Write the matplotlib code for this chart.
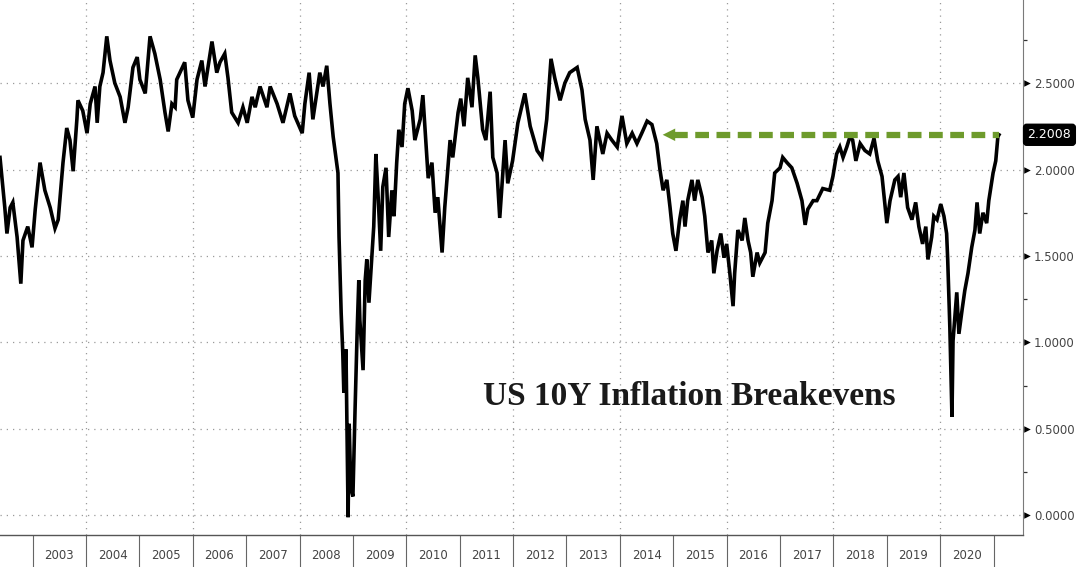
import matplotlib
matplotlib.use("Agg")
import matplotlib.pyplot as plt
from matplotlib.ticker import FixedLocator, FuncFormatter
from matplotlib.transforms import blended_transform_factory

# decimal year / breakeven (%)
dates = [
    2002.39, 2002.48, 2002.52, 2002.58, 2002.63, 2002.71, 2002.78, 2002.82, 2002.91, 2002.99,
    2003.05, 2003.14, 2003.23, 2003.33, 2003.42, 2003.48, 2003.57, 2003.64, 2003.70, 2003.76,
    2003.83, 2003.85, 2003.94, 2004.02, 2004.08, 2004.17, 2004.21, 2004.26, 2004.32, 2004.39,
    2004.45, 2004.54, 2004.64, 2004.73, 2004.79, 2004.88, 2004.96, 2005.01, 2005.11, 2005.20,
    2005.29, 2005.39, 2005.48, 2005.54, 2005.61, 2005.67, 2005.70, 2005.76, 2005.85, 2005.91,
    2006.00, 2006.08, 2006.17, 2006.23, 2006.36, 2006.45, 2006.51, 2006.60, 2006.66, 2006.73,
    2006.85, 2006.94, 2007.02, 2007.11, 2007.17, 2007.26, 2007.39, 2007.45, 2007.58, 2007.69,
    2007.82, 2007.91, 2008.05, 2008.10, 2008.18, 2008.25, 2008.38, 2008.44, 2008.51, 2008.57,
    2008.63, 2008.72, 2008.74, 2008.78, 2008.81, 2008.83, 2008.87, 2008.91, 2008.93, 2008.96,
    2009.00, 2009.04, 2009.08, 2009.11, 2009.13, 2009.19, 2009.23, 2009.26, 2009.30, 2009.36,
    2009.39, 2009.43, 2009.47, 2009.52, 2009.56, 2009.62, 2009.67, 2009.73, 2009.77, 2009.82,
    2009.86, 2009.92, 2009.97, 2010.03, 2010.11, 2010.16, 2010.26, 2010.31, 2010.41, 2010.48,
    2010.54, 2010.59, 2010.67, 2010.72, 2010.82, 2010.87, 2010.97, 2011.02, 2011.08, 2011.15,
    2011.23, 2011.29, 2011.34, 2011.43, 2011.49, 2011.57, 2011.62, 2011.70, 2011.75, 2011.85,
    2011.90, 2011.99, 2012.09, 2012.22, 2012.32, 2012.45, 2012.54, 2012.63, 2012.71, 2012.78,
    2012.88, 2012.97, 2013.06, 2013.20, 2013.29, 2013.35, 2013.44, 2013.50, 2013.57, 2013.68,
    2013.76, 2013.85, 2013.95, 2014.04, 2014.13, 2014.23, 2014.32, 2014.41, 2014.51, 2014.60,
    2014.69, 2014.75, 2014.81, 2014.88, 2014.94, 2014.99, 2015.05, 2015.12, 2015.18, 2015.22,
    2015.27, 2015.35, 2015.40, 2015.46, 2015.54, 2015.59, 2015.65, 2015.72, 2015.76, 2015.82,
    2015.89, 2015.95, 2016.00, 2016.06, 2016.12, 2016.15, 2016.21, 2016.29, 2016.34, 2016.40,
    2016.45, 2016.49, 2016.57, 2016.62, 2016.72, 2016.77, 2016.85, 2016.90, 2017.00, 2017.05,
    2017.13, 2017.22, 2017.32, 2017.41, 2017.47, 2017.52, 2017.62, 2017.69, 2017.80, 2017.93,
    2017.99, 2018.06, 2018.12, 2018.18, 2018.25, 2018.31, 2018.36, 2018.42, 2018.50, 2018.59,
    2018.68, 2018.76, 2018.83, 2018.91, 2018.96, 2019.00, 2019.06, 2019.15, 2019.21, 2019.26,
    2019.32, 2019.39, 2019.47, 2019.54, 2019.60, 2019.67, 2019.73, 2019.77, 2019.84, 2019.88,
    2019.94, 2020.01, 2020.07, 2020.12, 2020.14, 2020.18, 2020.22, 2020.24, 2020.27, 2020.31,
    2020.35, 2020.41, 2020.46, 2020.52, 2020.59, 2020.65, 2020.69, 2020.74, 2020.80, 2020.87,
    2020.91, 2020.99, 2021.04, 2021.08, 2021.10,
]
breakevens = [
    2.07, 1.78, 1.63, 1.78, 1.81, 1.61, 1.34, 1.59, 1.67, 1.55,
    1.77, 2.04, 1.88, 1.78, 1.66, 1.71, 2.04, 2.24, 2.17, 1.99,
    2.29, 2.40, 2.34, 2.21, 2.38, 2.48, 2.27, 2.48, 2.56, 2.77,
    2.63, 2.50, 2.42, 2.27, 2.36, 2.59, 2.65, 2.52, 2.44, 2.77,
    2.67, 2.52, 2.33, 2.22, 2.38, 2.36, 2.52, 2.56, 2.62, 2.40,
    2.30, 2.52, 2.63, 2.48, 2.74, 2.56, 2.62, 2.67, 2.53, 2.33,
    2.27, 2.36, 2.27, 2.42, 2.36, 2.48, 2.36, 2.48, 2.38, 2.27,
    2.44, 2.31, 2.21, 2.38, 2.56, 2.29, 2.56, 2.48, 2.60, 2.38,
    2.19, 1.98, 1.61, 1.17, 0.94, 0.71, 0.96, -0.01, 0.53, 0.16,
    0.11, 0.61, 1.07, 1.36, 1.13, 0.84, 1.36, 1.48, 1.23, 1.53,
    1.67, 2.09, 1.86, 1.53, 1.90, 2.01, 1.61, 1.88, 1.73, 2.04,
    2.23, 2.13, 2.38, 2.47, 2.34, 2.17, 2.29, 2.43, 1.95, 2.04,
    1.75, 1.84, 1.52, 1.78, 2.17, 2.07, 2.33, 2.41, 2.25, 2.53,
    2.36, 2.66, 2.53, 2.23, 2.17, 2.45, 2.07, 1.98, 1.72, 2.17,
    1.92, 2.05, 2.27, 2.44, 2.25, 2.11, 2.07, 2.29, 2.64, 2.53,
    2.40, 2.50, 2.56, 2.59, 2.46, 2.29, 2.17, 1.94, 2.25, 2.09,
    2.21, 2.17, 2.13, 2.31, 2.15, 2.21, 2.15, 2.21, 2.28, 2.26,
    2.15, 2.00, 1.88, 1.94, 1.78, 1.63, 1.53, 1.71, 1.82, 1.67,
    1.82, 1.94, 1.82, 1.94, 1.84, 1.73, 1.52, 1.59, 1.40, 1.53,
    1.63, 1.49, 1.57, 1.40, 1.21, 1.40, 1.65, 1.59, 1.72, 1.59,
    1.52, 1.38, 1.52, 1.46, 1.52, 1.69, 1.82, 1.98, 2.01, 2.07,
    2.04, 2.01, 1.92, 1.82, 1.68, 1.77, 1.82, 1.82, 1.89, 1.88,
    1.96, 2.09, 2.13, 2.07, 2.13, 2.19, 2.17, 2.05, 2.15, 2.11,
    2.09, 2.18, 2.05, 1.96, 1.81, 1.69, 1.82, 1.94, 1.96, 1.84,
    1.98, 1.78, 1.71, 1.81, 1.67, 1.57, 1.67, 1.48, 1.61, 1.73,
    1.71, 1.80, 1.73, 1.63, 1.48, 1.09, 0.57, 1.01, 1.13, 1.29,
    1.05, 1.19, 1.30, 1.40, 1.55, 1.65, 1.81, 1.63, 1.75, 1.69,
    1.82, 1.98, 2.05, 2.19, 2.2008,
]
last_value = 2.2008
match_date = 2014.75  # previous time breakevens were this high
years = list(range(2003, 2021))
y_ticks = [0.0, 0.5, 1.0, 1.5, 2.0, 2.5]
y_minor = [0.25, 0.75, 1.25, 1.75, 2.25, 2.75]
title = "US 10Y Inflation Breakevens"

GREEN = "#6e9b2c"
GRID = "#9a9a9a"
AXIS = "#7a7a7a"
LABEL = "#444444"

fig = plt.figure(figsize=(10.8, 5.67), dpi=100)
ax = fig.add_axes([0.0, 0.0564, 0.9472, 0.9436])
ax.set_xlim(2002.39, 2021.55)
ax.set_ylim(-0.113, 2.98)

# dotted grid
for v in y_ticks:
    ax.axhline(v, color=GRID, lw=0.9, ls=(0, (1, 4)), zorder=1)
for yr in years:
    if yr % 2 == 0:
        ax.axvline(yr, color=GRID, lw=0.9, ls=(0, (1, 4)), zorder=1)

ax.plot(dates, breakevens, color="black", lw=2.6, solid_joinstyle="miter", zorder=3)

# green dashed arrow back to the 2014 level
ax.plot([match_date + 0.27, dates[-1]], [last_value, last_value], color=GREEN,
        lw=4.5, ls=(0, (2.2, 1.2)), solid_capstyle="butt", zorder=4)
ax.annotate("", xy=(match_date, last_value), xytext=(match_date + 0.3, last_value),
            arrowprops=dict(arrowstyle="-|>,head_length=0.9,head_width=0.45",
                            color=GREEN, lw=0), zorder=4)

# spines
for side in ["left", "top"]:
    ax.spines[side].set_visible(False)
ax.spines["right"].set_color(AXIS)
ax.spines["bottom"].set_color("#555555")
ax.spines["bottom"].set_linewidth(1.0)

# x axis: separators at year boundaries, labels in the middle of each year
ax.xaxis.set_major_locator(FixedLocator(years + [2021]))
ax.xaxis.set_minor_locator(FixedLocator([y + 0.5 for y in years]))
ax.xaxis.set_major_formatter(FuncFormatter(lambda v, p: ""))
ax.xaxis.set_minor_formatter(FuncFormatter(lambda v, p: str(int(v))))
ax.tick_params(axis="x", which="major", length=24, width=0.8, color="#666666", direction="out")
ax.tick_params(axis="x", which="minor", length=0, pad=10, labelsize=8.5, labelcolor=LABEL)

# y axis on the right
ax.yaxis.tick_right()
ax.yaxis.set_major_locator(FixedLocator(y_ticks))
ax.yaxis.set_minor_locator(FixedLocator(y_minor))
ax.yaxis.set_major_formatter(FuncFormatter(lambda v, p: "%.4f" % v))
ax.tick_params(axis="y", which="major", length=0, pad=8, labelsize=8.5, labelcolor=LABEL)
ax.tick_params(axis="y", which="minor", length=3, width=0.9, color="#333333", direction="out")

trans = blended_transform_factory(ax.transAxes, ax.transData)
ax.scatter([1.0035] * len(y_ticks), y_ticks, marker=">", s=22, color="black",
           transform=trans, clip_on=False, zorder=5, linewidths=0)

# last value tag
ax.text(1.0045, last_value, "%.4f" % last_value, transform=trans, va="center", ha="left",
        fontsize=9, color="white",
        bbox=dict(boxstyle="round,pad=0.32,rounding_size=0.25", fc="black", ec="black"),
        zorder=6, clip_on=False)

fig.text(0.447, 0.30, title, fontsize=24, fontweight="bold",
         family=["Liberation Serif", "DejaVu Serif"], color="#1a1a1a", va="center", ha="left")

fig.savefig("out.png", dpi=100)
